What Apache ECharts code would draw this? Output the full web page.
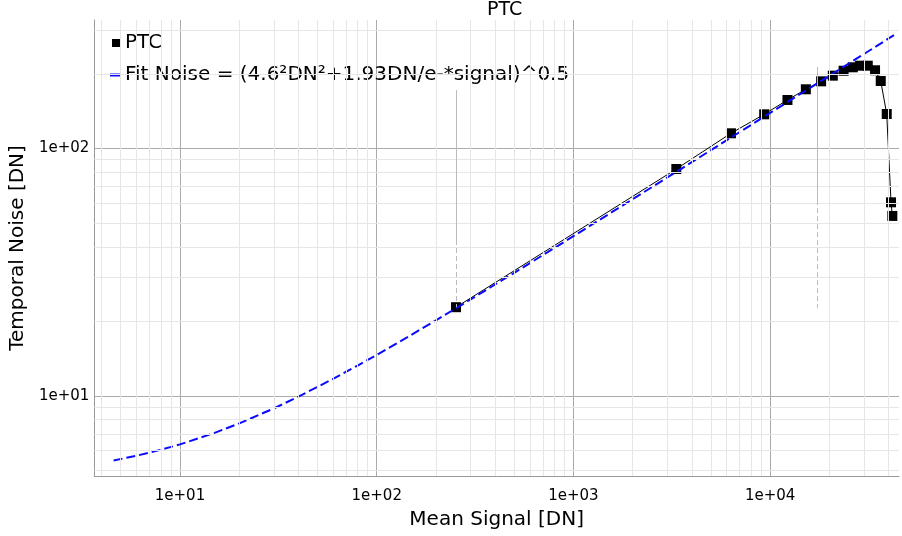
<!DOCTYPE html>
<html>
<head>
<meta charset="utf-8">
<script src="https://cdn.jsdelivr.net/npm/echarts@6/dist/echarts.min.js"></script>
<style>html,body{margin:0;padding:0;background:#fff;}#c{width:902px;height:536px;}</style>
</head>
<body>
<div id="c"></div>
<script>
// PTC measurement points
const signal = [253, 3333, 6318, 9322, 12240, 15180, 18150, 20810, 23610, 26290, 28640, 31330, 34120, 36470, 39120, 41140, 41770];
const noise  = [22.8, 82.5, 115.0, 137.2, 156.8, 173.2, 186.5, 196.6, 205.8, 212.5, 215.7, 215.7, 206.7, 187.1, 137.6, 60.5, 53.3];
// Fit curve
const fitX = [4.6, 6, 8, 10, 15, 20, 30, 40, 60, 80, 100, 150, 200, 300, 500, 700, 1000, 2000, 5000, 10000, 20000, 44000];
const fitY = [5.48, 5.72, 6.05, 6.36, 7.08, 7.73, 8.89, 9.92, 11.7, 13.25, 14.63, 17.63, 20.18, 24.5, 31.4, 37.04, 44.17, 62.3, 98.3, 139.0, 196.5, 291.4];
// Fit range markers
const rangeX = [253, 17260];
const rangeTop = [172, 213];
const rangeMid = [42.6, 61.8];
const rangeBottom = [22.8, 22.6];
// Minor grid positions
const minorX = [4,5,6,7,8,9,20,30,40,50,60,70,80,90,200,300,400,500,600,700,800,900,2000,3000,4000,5000,6000,7000,8000,9000,20000,30000,40000];
const minorY = [5,6,7,8,9,20,30,40,50,60,70,80,90,200,300];
const legendNames = ['PTC', 'Fit Noise = (4.6\u00b2DN\u00b2+1.93DN/e-*signal)^0.5'];

const FONT = 'DejaVu Sans';
const BLUE = '#0a0aff';
function fmt(v) {
  const e = Math.round(Math.log10(v));
  const s = Math.abs(e) < 10 ? '0' + Math.abs(e) : '' + Math.abs(e);
  return '1e' + (e < 0 ? '-' : '+') + s;
}
function isDecade(v) {
  const l = Math.log10(v);
  return Math.abs(l - Math.round(l)) < 1e-6;
}

const markLines = [];
rangeX.forEach((x, i) => {
  markLines.push([{coord: [x, rangeTop[i]], lineStyle: {type: 'solid'}}, {coord: [x, rangeMid[i]]}]);
  markLines.push([{coord: [x, rangeMid[i]], lineStyle: {type: [5, 3]}}, {coord: [x, rangeBottom[i]]}]);
});

const chart = echarts.init(document.getElementById('c'), null, {renderer: 'canvas'});
chart.setOption({
  animation: false,
  backgroundColor: '#fff',
  textStyle: {fontFamily: FONT},
  title: {
    text: 'PTC', left: 487, top: 1, padding: 0,
    textStyle: {fontFamily: FONT, fontSize: 19, fontWeight: 'normal', color: '#000'}
  },
  legend: [
    {data: [{name: legendNames[0], itemStyle: {color: '#000', borderWidth: 0}}], left: 112, top: 33, padding: 0, icon: 'rect', itemWidth: 8, itemHeight: 8,
     textStyle: {fontFamily: FONT, fontSize: 20, color: '#000'}},
    {data: [{name: legendNames[1], icon: 'rect', itemStyle: {color: BLUE, opacity: 1, borderWidth: 0}}],
     left: 110, top: 65, padding: 0, itemWidth: 10, itemHeight: 3,
     textStyle: {fontFamily: FONT, fontSize: 20, color: '#000'}}
  ],
  grid: {left: 93, top: 20, right: 3, bottom: 60},
  xAxis: {
    type: 'log', logBase: 10, min: 3.67, max: 45160,
    name: 'Mean Signal [DN]', nameLocation: 'middle', nameGap: 34,
    nameTextStyle: {fontFamily: FONT, fontSize: 20, color: '#000'},
    axisLine: {show: true, lineStyle: {color: '#999', width: 1}},
    axisTick: {show: false},
    axisLabel: {fontFamily: FONT, fontSize: 15, color: '#000', margin: 13, showMinLabel: false, showMaxLabel: false,
      formatter: v => isDecade(v) ? fmt(v) : ''},
    splitLine: {show: true, showMinLine: false, showMaxLine: false, lineStyle: {color: '#aaa', width: 1}}
  },
  yAxis: {
    type: 'log', logBase: 10, min: 4.74, max: 330,
    name: 'Temporal Noise [DN]', nameLocation: 'middle', nameGap: 58, nameRotate: 90,
    nameTextStyle: {fontFamily: FONT, fontSize: 20, color: '#000'},
    axisLine: {show: true, lineStyle: {color: '#999', width: 1}},
    axisTick: {show: false},
    axisLabel: {fontFamily: FONT, fontSize: 15, color: '#000', margin: 5, showMinLabel: false, showMaxLabel: false,
      formatter: v => isDecade(v) ? fmt(v) : ''},
    splitLine: {show: true, showMinLine: false, showMaxLine: false, lineStyle: {color: '#aaa', width: 1}}
  },
  series: [
    {
      type: 'line', name: '_grid', data: [], z: 1, silent: true,
      markLine: {
        silent: true, symbol: 'none', label: {show: false}, animation: false,
        lineStyle: {color: '#e6e6e6', width: 1, type: 'solid'},
        data: minorX.map(v => ({xAxis: v})).concat(minorY.map(v => ({yAxis: v})))
      }
    },
    {
      type: 'line', name: '_range', data: [], z: 1, silent: true,
      markLine: {
        silent: true, symbol: 'none', label: {show: false}, animation: false,
        lineStyle: {color: '#bbb', width: 1},
        data: markLines
      }
    },
    {
      type: 'line', name: legendNames[0], z: 3,
      data: signal.map((x, i) => [x, noise[i]]),
      symbol: 'rect', symbolSize: 10, showAllSymbol: true,
      itemStyle: {color: '#000', borderWidth: 0},
      lineStyle: {color: '#000', width: 1}
    },
    {
      type: 'line', name: legendNames[1], z: 4,
      data: fitX.map((x, i) => [x, fitY[i]]),
      symbol: 'none', smooth: false,
      itemStyle: {color: BLUE},
      lineStyle: {color: BLUE, width: 2, type: [9, 4]}
    }
  ]
});
</script>
</body>
</html>
